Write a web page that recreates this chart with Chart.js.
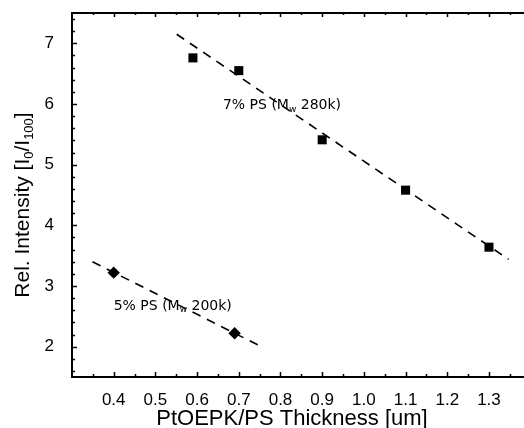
<!DOCTYPE html>
<html>
<head>
<meta charset="utf-8">
<script src="https://cdn.jsdelivr.net/npm/chart.js@4/dist/chart.umd.min.js"></script>
<style>
html,body{margin:0;padding:0;background:#fff;overflow:hidden}
</style>
</head>
<body>
<canvas id="myChart" width="524" height="428"></canvas>
<script>
// datos
var thick7 = [0.59, 0.70, 0.90, 1.10, 1.30];
var rel7 = [6.76, 6.55, 5.41, 4.58, 3.64];
var thick5 = [0.40, 0.69];
var rel5 = [3.22, 2.22];

// rectas de ajuste (extremos)
var fit7X = [0.551, 1.347];
var fit7Y = [7.15, 3.44];
var fit5X = [0.349, 0.757];
var fit5Y = [3.40, 1.99];

var xTicks = [0.4, 0.5, 0.6, 0.7, 0.8, 0.9, 1.0, 1.1, 1.2, 1.3];
var yTicks = [2, 3, 4, 5, 6, 7];

// etiquetas dentro del grafico: [texto, subindice, resto, x, y]
var notes = [
  ['7% PS (M', 'w', ' 280k)', 0.662, 5.97],
  ['5% PS (M', 'w', ' 200k)', 0.400, 2.67]
];

function pts(xs, ys){
  var r = [];
  for (var i = 0; i < xs.length; i++) r.push({x: xs[i], y: ys[i]});
  return r;
}

// dibuja texto con subindices, piezas = [[texto, esSub], ...]
function drawPieces(ctx, pieces, x, y, font, subFont, subOff, align){
  var total = 0, w = [];
  for (var i = 0; i < pieces.length; i++){
    ctx.font = pieces[i][1] ? subFont : font;
    w.push(ctx.measureText(pieces[i][0]).width);
    total += w[i];
  }
  var cx = align == 'center' ? x - total / 2 : x;
  for (var j = 0; j < pieces.length; j++){
    ctx.font = pieces[j][1] ? subFont : font;
    ctx.fillText(pieces[j][0], cx, pieces[j][1] ? y + subOff : y);
    cx += w[j];
  }
}

function noPadding(s){
  s.paddingLeft = 0; s.paddingRight = 0;
  s.paddingTop = 0; s.paddingBottom = 0;
}

var framePlugin = {
  id: 'frame',
  afterDraw: function(chart){
    var ctx = chart.ctx, a = chart.chartArea;
    var xs = chart.scales.x, ys = chart.scales.y;
    ctx.save();
    ctx.strokeStyle = '#000';
    ctx.fillStyle = '#000';
    // borde superior
    ctx.lineWidth = 2;
    ctx.beginPath();
    ctx.moveTo(a.left - 1, a.top);
    ctx.lineTo(a.right, a.top);
    ctx.stroke();
    // marcas hacia dentro
    ctx.lineWidth = 1.5;
    ctx.beginPath();
    for (var k = 7; k <= 27; k++){
      var v = k * 0.05;
      var px = Math.round(xs.getPixelForValue(v)) + 0.5;
      var len = (k % 2 == 0) ? 5 : 3;
      ctx.moveTo(px, a.bottom); ctx.lineTo(px, a.bottom - len);
      ctx.moveTo(px, a.top); ctx.lineTo(px, a.top + len - 1);
    }
    for (var m = 8; m <= 37; m++){
      var vy = m * 0.2;
      var py = Math.round(ys.getPixelForValue(vy)) + 0.5;
      var ly = (m % 5 == 0) ? 5 : 3;
      ctx.moveTo(a.left, py); ctx.lineTo(a.left + ly, py);
    }
    ctx.stroke();

    // titulos de ejes
    ctx.textBaseline = 'alphabetic';
    ctx.textAlign = 'left';
    drawPieces(ctx, [['PtOEPK/PS Thickness [um]', false]], 292, 425,
      '22px "Liberation Sans", Arial', '14px "Liberation Sans", Arial', 0, 'center');
    ctx.save();
    ctx.translate(29, 205);
    ctx.rotate(-Math.PI / 2);
    drawPieces(ctx, [['Rel. Intensity [I', false], ['0', true], ['/I', false], ['100', true], [']', false]], 0, 0,
      '21px "Liberation Sans", Arial', '13px "Liberation Sans", Arial', 4, 'center');
    ctx.restore();

    // notas
    ctx.textBaseline = 'middle';
    for (var n = 0; n < notes.length; n++){
      var nx = xs.getPixelForValue(notes[n][3]);
      var ny = ys.getPixelForValue(notes[n][4]);
      drawPieces(ctx, [[notes[n][0], false], [notes[n][1], true], [notes[n][2], false]], nx, ny,
        '14px "DejaVu Sans", Verdana', '9px "DejaVu Sans", Verdana', 4, 'left');
    }
    ctx.restore();
  }
};

var ctx = document.getElementById('myChart');
var myChart = new Chart(ctx, {
  type: 'scatter',
  plugins: [framePlugin],
  data: {
    datasets: [
      {
        type: 'line', data: pts(fit7X, fit7Y), showLine: true, fill: false,
        borderColor: '#000', borderWidth: 1.6, borderDash: [9, 7], pointRadius: 0
      },
      {
        type: 'line', data: pts(fit5X, fit5Y), showLine: true, fill: false,
        borderColor: '#000', borderWidth: 1.6, borderDash: [9, 7], pointRadius: 0
      },
      {
        label: '7% PS', data: pts(thick7, rel7), pointStyle: 'rect', pointRadius: 6.4,
        backgroundColor: '#000', borderWidth: 0
      },
      {
        label: '5% PS', data: pts(thick5, rel5), pointStyle: 'rectRot', pointRadius: 6.2,
        backgroundColor: '#000', borderWidth: 0
      }
    ]
  },
  options: {
    responsive: false,
    animation: false,
    devicePixelRatio: 1,
    layout: {autoPadding: false, padding: {top: 13, left: 0, right: 0, bottom: 0}},
    plugins: {legend: {display: false}, tooltip: {enabled: false}},
    scales: {
      x: {
        type: 'linear', min: 0.3, max: 1.384,
        afterBuildTicks: function(s){ s.ticks = xTicks.map(function(v){ return {value: v}; }); },
        afterFit: function(s){ s.height = 51; noPadding(s); },
        grid: {display: false},
        border: {display: true, color: '#000', width: 2},
        ticks: {
          color: '#000', padding: 5, maxRotation: 0, autoSkip: false,
          font: {family: '"Liberation Sans", Arial', size: 17},
          callback: function(v){ return v.toFixed(1); }
        }
      },
      y: {
        min: 1.5, max: 7.5,
        afterBuildTicks: function(s){ s.ticks = yTicks.map(function(v){ return {value: v}; }); },
        afterFit: function(s){ s.width = 72; noPadding(s); },
        grid: {display: false},
        border: {display: true, color: '#000', width: 2},
        ticks: {
          color: '#000', padding: 10, autoSkip: false,
          font: {family: '"Liberation Sans", Arial', size: 17}
        }
      }
    }
  }
});
</script>
</body>
</html>
